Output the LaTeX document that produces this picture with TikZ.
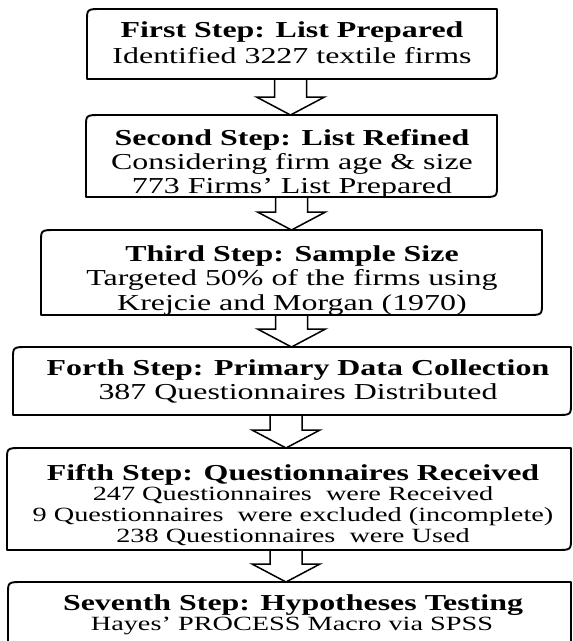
\documentclass[tikz,border=0pt]{standalone}
\usepackage{fontspec}
\setmainfont{Liberation Serif}[FakeStretch=1.40]
\usetikzlibrary{calc}
\tikzset{
 boxshape/.style={rectangle, draw=none, inner sep=0pt, outer sep=0pt},
 boxline/.style={line width=1.9pt, line join=round},
 arrowline/.style={line width=1.5pt, line join=miter},
 ttl/.style={anchor=base, inner sep=0pt, font=\fontsize{22.8}{26}\selectfont\bfseries},
 txt/.style={anchor=base, inner sep=0pt, font=\fontsize{22.8}{26}\selectfont},
 sml/.style={anchor=base, inner sep=0pt, font=\fontsize{20.2}{22}\selectfont},
}
\newcommand\stepoutline[1]{%
 \draw[boxline] ($(#1.north west)+(0,12)$) .. controls (#1.north west) .. ($(#1.north west)+(15,0)$) -- (#1.north east) -- ($(#1.south east)+(0,-12)$) .. controls (#1.south east) .. ($(#1.south east)+(-15,0)$) -- (#1.south west) -- cycle;}
\newcommand\blockarrow[3]{%
 \coordinate (#1s) at ($(#1.south)+(#3,0)$);
 \coordinate (#1e) at (#1s |- #2.north);
 \draw[arrowline] ($(#1s)+(-16,0)$) -- ($(#1e)+(-16,-18)$) -- ($(#1e)+(-34,-18)$) -- (#1e) -- ($(#1e)+(34,-18)$) -- ($(#1e)+(16,-18)$) -- ($(#1s)+(16,0)$);}
\begin{document}
\begin{tikzpicture}[x=1pt,y=-1pt]
\fill[white] (0,0) rectangle (573,641);
\useasboundingbox (0,0) rectangle (573,641);

\node[boxshape, minimum width=410pt, minimum height=70pt] (b1) at (292,44) {};
\node[boxshape, minimum width=411pt, minimum height=82pt] (b2) at (291.5,156) {};
\node[boxshape, minimum width=501pt, minimum height=85pt] (b3) at (291.5,272.5) {};
\node[boxshape, minimum width=558pt, minimum height=68pt] (b4) at (292,381) {};
\node[boxshape, minimum width=564pt, minimum height=102pt] (b5) at (289,499) {};
\node[boxshape, minimum width=563pt, minimum height=90pt] (b6) at (289.5,627) {};

\stepoutline{b1}
\stepoutline{b2}
\stepoutline{b3}
\stepoutline{b4}
\stepoutline{b5}
\stepoutline{b6}

\blockarrow{b1}{b2}{-1.5}
\blockarrow{b2}{b3}{0}
\blockarrow{b3}{b4}{0}
\blockarrow{b4}{b5}{-6}
\blockarrow{b5}{b6}{-3}

\node[ttl] (t1a) at (292,37) {First Step: List Prepared};
\node[txt] (t1b) at (292,63) {Identified 3227 textile firms};

\node[ttl] (t2a) at (292,145) {Second Step: List Refined};
\node[txt] (t2b) at (292,169) {Considering firm age \& size};
\node[txt] (t2c) at (292,193) {773 Firms’ List Prepared};

\node[ttl] (t3a) at (292,261) {Third Step: Sample Size};
\node[txt] (t3b) at (292,285) {Targeted 50\% of the firms using};
\node[txt] (t3c) at (292,310) {Krejcie and Morgan (1970)};

\node[ttl] (t4a) at (298,375) {Forth Step: Primary Data Collection};
\node[txt] (t4b) at (298,399) {387 Questionnaires Distributed};

\node[ttl] (t5a) at (293,480) {Fifth Step: Questionnaires Received};
\node[sml] (t5b) at (293,500) {247 Questionnaires\ \ were Received};
\node[sml] (t5c) at (293,521) {9 Questionnaires\ \ were excluded (incomplete)};
\node[sml] (t5d) at (293,542) {238 Questionnaires\ \ were Used};

\node[ttl] (t6a) at (293,610) {Seventh Step: Hypotheses Testing};
\node[sml] (t6b) at (292,630) {Hayes’ PROCESS Macro via SPSS};
\end{tikzpicture}
\end{document}
